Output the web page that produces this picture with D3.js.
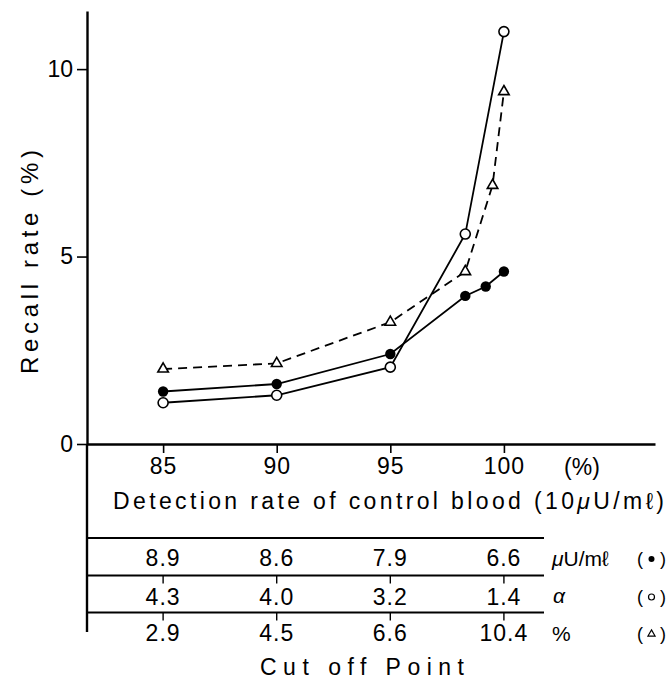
<!DOCTYPE html>
<html>
<head>
<meta charset="utf-8">
<script src="https://cdn.jsdelivr.net/npm/d3@7"></script>
<style>
  body { margin: 0; background: #fff; }
  text { font-family: "Liberation Sans", Arial, sans-serif; fill: #000; }
</style>
</head>
<body>
<div id="chart"></div>
<script>
// detection rate columns (x axis ticks and table columns)
var cols = [85, 90, 95, 100]
var yTicks = [0, 5, 10]

// recall rate series
var xFilled = [85, 90, 95, 98.3, 99.2, 100]
var yFilled = [1.4, 1.6, 2.4, 3.95, 4.2, 4.6]
var xOpen = [85, 90, 95, 98.3, 100]
var yOpen = [1.1, 1.3, 2.05, 5.6, 11.0]
var xTri = [85, 90, 95, 98.3, 99.5, 100]
var yTri = [2.0, 2.15, 3.25, 4.6, 6.9, 9.4]

// cut off point table
var rowUnits = ["8.9", "8.6", "7.9", "6.6"]
var rowAlpha = ["4.3", "4.0", "3.2", "1.4"]
var rowPct = ["2.9", "4.5", "6.6", "10.4"]

var width = 670, height = 680

var svg = d3.select("#chart").append("svg")
    .attr("width", width)
    .attr("height", height)

// scales
var x = d3.scaleLinear().domain([81.65, 106.65]).range([87, 655])
var y = d3.scaleLinear().domain([0, 11.55]).range([444, 11])

// y axis
var yAxis = svg.append("g")
    .attr("transform", "translate(" + x(81.65) + ",0)")
    .call(d3.axisLeft(y).tickValues(yTicks).tickFormat(d3.format("d"))
            .tickSize(10).tickSizeOuter(0).tickPadding(4))
yAxis.select(".domain").attr("stroke-width", 2.4)
yAxis.selectAll(".tick line").attr("stroke-width", 1.6)
yAxis.selectAll("text").style("font-size", "23px")

// y axis continues down past the table
svg.append("line")
    .attr("x1", x(81.65)).attr("x2", x(81.65))
    .attr("y1", y(0)).attr("y2", 632)
    .attr("stroke", "#000").attr("stroke-width", 2.4)

// x axis
var xAxis = svg.append("g")
    .attr("transform", "translate(0," + y(0) + ")")
    .call(d3.axisBottom(x).tickValues(cols).tickSize(9).tickSizeOuter(0).tickPadding(5))
xAxis.select(".domain").attr("stroke-width", 2.4)
xAxis.selectAll(".tick line").attr("stroke-width", 1.6)
xAxis.selectAll("text").style("font-size", "23px").style("letter-spacing", "1px")

svg.append("text")
    .attr("x", 582).attr("y", 475)
    .attr("text-anchor", "middle")
    .style("font-size", "23px")
    .text("(%)")

// axis titles
var xt = svg.append("text")
    .attr("x", 113).attr("y", 509)
    .attr("textLength", 551).attr("lengthAdjust", "spacing")
    .style("font-size", "23px")
xt.append("tspan").text("Detection rate of control blood (10")
xt.append("tspan").style("font-style", "italic").text("μ")
xt.append("tspan").text("U/mℓ)")

svg.append("text")
    .attr("transform", "translate(38,262) rotate(-90)")
    .attr("text-anchor", "middle")
    .attr("textLength", 224).attr("lengthAdjust", "spacing")
    .style("font-size", "24px")
    .text("Recall rate (%)")

svg.append("text")
    .attr("x", 260).attr("y", 675)
    .attr("textLength", 204).attr("lengthAdjust", "spacing")
    .style("font-size", "23px")
    .text("Cut off Point")

// series lines
function pts(xs, ys) { return xs.map(function(d, i) { return [x(d), y(ys[i])] }) }
var line = d3.line()

svg.append("path")
    .attr("d", line(pts(xTri, yTri)))
    .attr("fill", "none").attr("stroke", "#000")
    .attr("stroke-width", 1.8).attr("stroke-dasharray", "9,6")
svg.append("path")
    .attr("d", line(pts(xFilled, yFilled)))
    .attr("fill", "none").attr("stroke", "#000").attr("stroke-width", 1.8)
svg.append("path")
    .attr("d", line(pts(xOpen, yOpen)))
    .attr("fill", "none").attr("stroke", "#000").attr("stroke-width", 1.8)

// markers
svg.selectAll(".tri").data(pts(xTri, yTri)).enter().append("path")
    .attr("class", "tri")
    .attr("transform", function(d) { return "translate(" + d[0] + "," + d[1] + ")" })
    .attr("d", d3.symbol(d3.symbolTriangle, 48))
    .attr("fill", "#fff").attr("stroke", "#000").attr("stroke-width", 1.6)
svg.selectAll(".filled").data(pts(xFilled, yFilled)).enter().append("circle")
    .attr("class", "filled")
    .attr("cx", function(d) { return d[0] }).attr("cy", function(d) { return d[1] })
    .attr("r", 5.2).attr("fill", "#000")
svg.selectAll(".open").data(pts(xOpen, yOpen)).enter().append("circle")
    .attr("class", "open")
    .attr("cx", function(d) { return d[0] }).attr("cy", function(d) { return d[1] })
    .attr("r", 5).attr("fill", "#fff").attr("stroke", "#000").attr("stroke-width", 1.6)

// table rules
var rules = [538, 575.5, 612.5]
rules.forEach(function(ry, k) {
  svg.append("line")
      .attr("x1", x(81.65)).attr("x2", 544)
      .attr("y1", ry).attr("y2", ry)
      .attr("stroke", "#000").attr("stroke-width", 2.2)
  if (k > 0) {
    svg.selectAll(".rt" + k).data(cols).enter().append("line")
        .attr("x1", d => x(d)).attr("x2", d => x(d))
        .attr("y1", ry).attr("y2", ry + 8)
        .attr("stroke", "#000").attr("stroke-width", 1.4)
  }
})

// table values
var rows = [
  {vals: rowUnits, base: 566},
  {vals: rowAlpha, base: 605},
  {vals: rowPct, base: 641}
]
rows.forEach(function(r, k) {
  svg.selectAll(".row" + k).data(r.vals).enter().append("text")
      .attr("x", (d, i) => x(cols[i]))
      .attr("y", r.base)
      .attr("text-anchor", "middle")
      .style("font-size", "23px").style("letter-spacing", "1px")
      .text(d => d)
})

// row labels
var l1 = svg.append("text").attr("x", 552).attr("y", 566).style("font-size", "21px")
l1.append("tspan").style("font-style", "italic").text("μ")
l1.append("tspan").text("U/mℓ")
svg.append("text").attr("x", 553).attr("y", 603)
    .style("font-size", "21px").style("font-style", "italic").text("α")
svg.append("text").attr("x", 552).attr("y", 641)
    .style("font-size", "21px").text("%")

// legend symbols in parentheses
var legY = [559, 597, 634]
legY.forEach(function(ly, k) {
  svg.append("text").attr("x", 640).attr("y", ly + 6)
      .attr("text-anchor", "middle").style("font-size", "18px").text("(")
  svg.append("text").attr("x", 663).attr("y", ly + 6)
      .attr("text-anchor", "middle").style("font-size", "18px").text(")")
})
svg.append("circle").attr("cx", 651.5).attr("cy", legY[0]).attr("r", 3).attr("fill", "#000")
svg.append("circle").attr("cx", 651.5).attr("cy", legY[1]).attr("r", 3)
    .attr("fill", "#fff").attr("stroke", "#000").attr("stroke-width", 1.2)
svg.append("path")
    .attr("transform", "translate(651.5," + legY[2] + ")")
    .attr("d", d3.symbol(d3.symbolTriangle, 22))
    .attr("fill", "#fff").attr("stroke", "#000").attr("stroke-width", 1.2)
</script>
</body>
</html>
